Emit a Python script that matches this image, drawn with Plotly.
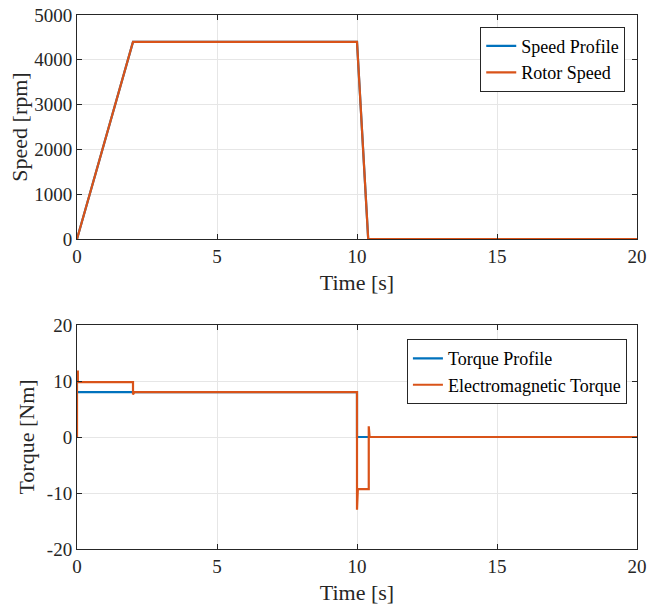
import plotly.graph_objects as go
from plotly.subplots import make_subplots

# Speed data
speed_profile_t = [0, 2, 10, 10.4, 20]
speed_profile = [0, 4400, 4400, 0, 0]
rotor_speed_t = [0, 2, 10, 10.4, 20]
rotor_speed = [0, 4400, 4400, 0, 0]

# Torque data
torque_profile_t = [0, 10, 10, 20]
torque_profile = [8, 8, 0, 0]
em_torque_t = [0, 0, 0.03, 0.03, 2, 2, 2.05, 10, 10, 10.03, 10.42, 10.42, 10.45, 20]
em_torque = [0, 11.7, 11.7, 9.8, 9.8, 7.6, 8, 8, -13, -9.3, -9.3, 1.9, 0, 0]

x_ticks = [0, 5, 10, 15, 20]
speed_ticks = [0, 1000, 2000, 3000, 4000, 5000]
torque_ticks = [-20, -10, 0, 10, 20]
torque_tick_labels = ["-20", "-10", "0", "10", "20"]

BLUE = "#0072BD"
ORANGE = "#D95319"
AX = "#262626"
FONT = "Liberation Serif"

fig = make_subplots(rows=2, cols=1, vertical_spacing=(534 - 448) / 534)

fig.add_trace(go.Scatter(x=speed_profile_t, y=speed_profile, mode="lines", name="Speed Profile",
                         line=dict(color=BLUE, width=2.2), legend="legend"), row=1, col=1)
fig.add_trace(go.Scatter(x=rotor_speed_t, y=rotor_speed, mode="lines", name="Rotor Speed",
                         line=dict(color=ORANGE, width=2.2), legend="legend"), row=1, col=1)
fig.add_trace(go.Scatter(x=torque_profile_t, y=torque_profile, mode="lines", name="Torque Profile",
                         line=dict(color=BLUE, width=2.2), legend="legend2"), row=2, col=1)
fig.add_trace(go.Scatter(x=em_torque_t, y=em_torque, mode="lines", name="Electromagnetic Torque",
                         line=dict(color=ORANGE, width=2.2), legend="legend2"), row=2, col=1)

axcommon = dict(showline=True, linecolor=AX, linewidth=1, mirror="ticks", ticks="inside",
                ticklen=5, tickcolor=AX, showgrid=True, gridcolor="#e6e6e6", gridwidth=1,
                zeroline=False, automargin=False,
                tickfont=dict(family=FONT, size=19, color=AX),
                title_font=dict(family=FONT, size=22, color=AX))

for r in (1, 2):
    fig.update_xaxes(range=[0, 20], tickvals=x_ticks, title_text="Time [s]", title_standoff=8,
                     row=r, col=1, **axcommon)
fig.update_yaxes(range=[0, 5000], tickvals=speed_ticks, title_text="Speed [rpm]",
                 title_standoff=0, row=1, col=1, **axcommon)
fig.update_yaxes(range=[-20, 20], tickvals=torque_ticks, ticktext=torque_tick_labels,
                 title_text="Torque [Nm]", title_standoff=6, row=2, col=1, **axcommon)

legcommon = dict(bgcolor="white", bordercolor=AX, borderwidth=1,
                 font=dict(family=FONT, size=18, color="black"),
                 xanchor="right", yanchor="top", tracegroupgap=0, itemwidth=30)
fig.update_layout(
    width=648, height=610,
    font=dict(family=FONT, color=AX),
    margin=dict(l=77, r=11, t=15, b=61, autoexpand=False),
    plot_bgcolor="white", paper_bgcolor="white",
    showlegend=True,
    legend=dict(x=0.979, y=0.978, **legcommon),
    legend2=dict(x=0.982, y=0.393, **legcommon),
)

fig.write_html("out.html")
